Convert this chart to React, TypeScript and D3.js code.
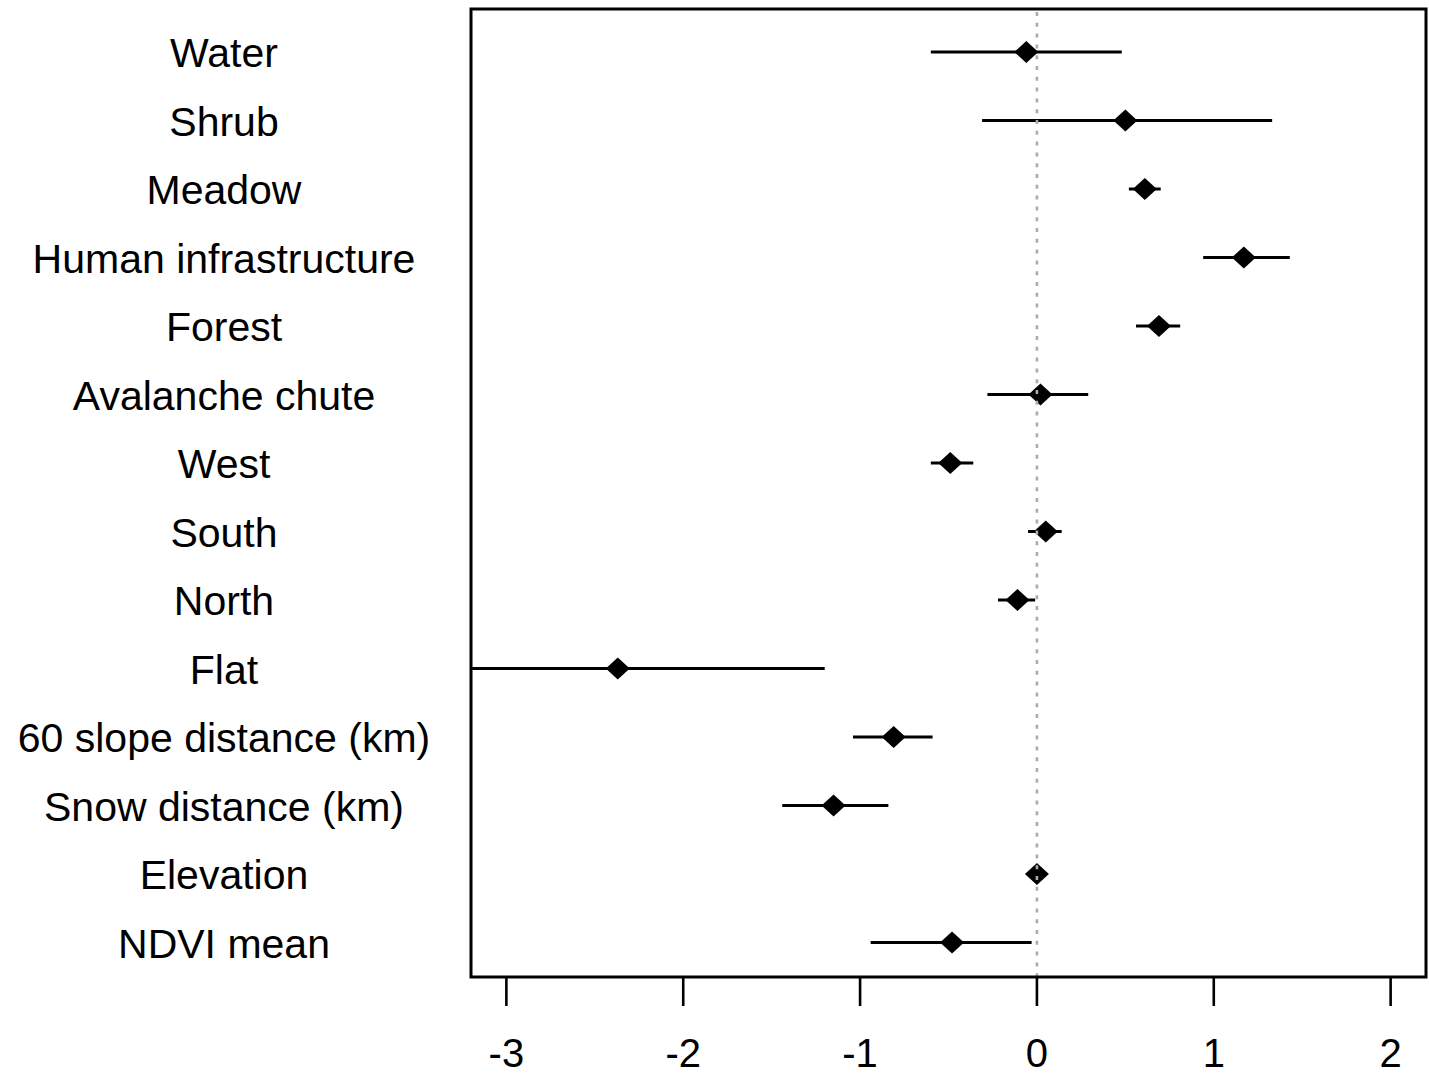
import { useEffect, useRef } from 'react';
import * as d3 from 'd3';

const labels = [
  'Water',
  'Shrub',
  'Meadow',
  'Human infrastructure',
  'Forest',
  'Avalanche chute',
  'West',
  'South',
  'North',
  'Flat',
  '60 slope distance (km)',
  'Snow distance (km)',
  'Elevation',
  'NDVI mean',
];
const estimates = [-0.06, 0.5, 0.61, 1.17, 0.69, 0.02, -0.49, 0.05, -0.11, -2.37, -0.81, -1.15, 0.0, -0.48];
const lower = [-0.6, -0.31, 0.52, 0.94, 0.56, -0.28, -0.6, -0.05, -0.22, -3.3, -1.04, -1.44, -0.01, -0.94];
const upper = [0.48, 1.33, 0.7, 1.43, 0.81, 0.29, -0.36, 0.14, -0.01, -1.2, -0.59, -0.84, 0.01, -0.03];
const xTicks = [-3, -2, -1, 0, 1, 2];

function ForestPlot() {
  const svgRef = useRef<SVGSVGElement>(null);

  useEffect(() => {
    const width = 1429;
    const height = 1076;
    const box = { left: 471, right: 1426, top: 9, bottom: 977 };

    const svg = d3.select(svgRef.current);
    svg.selectAll('*').remove();
    svg.attr('width', width).attr('height', height);

    // R style 4% expansion around xlim = c(-3, 2)
    const pad = (2 - -3) * 0.04;
    const x = d3.scaleLinear().domain([-3 - pad, 2 + pad]).range([box.left, box.right]);
    const y = d3.scalePoint<string>().domain(labels).range([52, 942.5]);

    const font = '"Liberation Sans", Arial, sans-serif';

    svg
      .append('defs')
      .append('clipPath')
      .attr('id', 'plot-clip')
      .append('rect')
      .attr('x', box.left)
      .attr('y', box.top)
      .attr('width', box.right - box.left)
      .attr('height', box.bottom - box.top);

    const plot = svg.append('g').attr('clip-path', 'url(#plot-clip)');

    // CI lines
    plot
      .selectAll('line.ci')
      .data(labels)
      .enter()
      .append('line')
      .attr('class', 'ci')
      .attr('x1', (d, i) => x(lower[i]))
      .attr('x2', (d, i) => x(upper[i]))
      .attr('y1', (d) => y(d)!)
      .attr('y2', (d) => y(d)!)
      .attr('stroke', '#000')
      .attr('stroke-width', 3.2);

    // diamonds
    plot
      .selectAll('path.pt')
      .data(labels)
      .enter()
      .append('path')
      .attr('class', 'pt')
      .attr('transform', (d, i) => `translate(${x(estimates[i])},${y(d)})`)
      .attr('d', 'M-12,0 L0,-11 L12,0 L0,11 Z')
      .attr('fill', '#000');

    // zero reference line (drawn over the points)
    svg
      .append('line')
      .attr('x1', x(0))
      .attr('x2', x(0))
      .attr('y1', box.top + 3)
      .attr('y2', box.bottom)
      .attr('stroke', '#ababab')
      .attr('stroke-width', 2.6)
      .attr('stroke-dasharray', '4,6.8');

    // frame
    svg
      .append('rect')
      .attr('x', box.left)
      .attr('y', box.top)
      .attr('width', box.right - box.left)
      .attr('height', box.bottom - box.top)
      .attr('fill', 'none')
      .attr('stroke', '#000')
      .attr('stroke-width', 3);

    // x axis ticks
    const axis = svg.append('g');
    axis
      .selectAll('line')
      .data(xTicks)
      .enter()
      .append('line')
      .attr('x1', (d) => x(d))
      .attr('x2', (d) => x(d))
      .attr('y1', box.bottom)
      .attr('y2', box.bottom + 29)
      .attr('stroke', '#000')
      .attr('stroke-width', 2.6);

    axis
      .selectAll('text')
      .data(xTicks)
      .enter()
      .append('text')
      .attr('x', (d) => x(d))
      .attr('y', 1067)
      .attr('text-anchor', 'middle')
      .attr('font-family', font)
      .attr('font-size', '40px')
      .attr('fill', '#000')
      .text((d) => (d < 0 ? `-${Math.abs(d)}` : `${d}`));

    // row labels
    svg
      .append('g')
      .selectAll('text')
      .data(labels)
      .enter()
      .append('text')
      .attr('x', 224)
      .attr('y', (d) => y(d)! + 15)
      .attr('text-anchor', 'middle')
      .attr('font-family', font)
      .attr('font-size', '41px')
      .attr('fill', '#000')
      .text((d) => d);
  }, []);

  return <svg ref={svgRef} style={{ position: 'absolute', left: 0, top: 0 }}></svg>;
}

export default function App() {
  return <ForestPlot />;
}
